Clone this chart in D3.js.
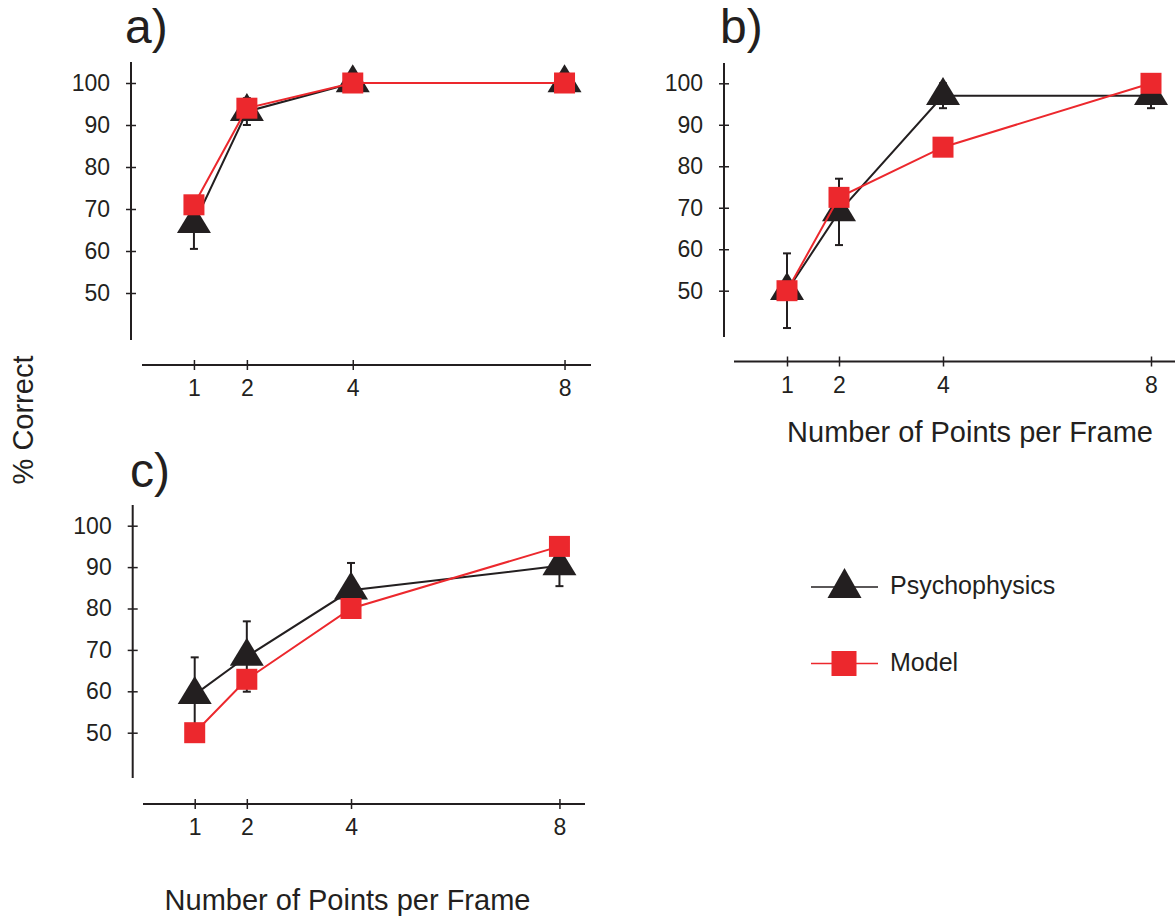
<!DOCTYPE html>
<html>
<head>
<meta charset="utf-8">
<script src="https://cdn.jsdelivr.net/npm/d3@7"></script>
<style>
  body { margin: 0; background: #fff; }
  svg { display: block; font-family: "Liberation Sans", Arial, sans-serif; }
  .tick text { font-size: 23px; fill: #231f20; }
  .tick line { stroke: #231f20; stroke-width: 1.5; }
</style>
</head>
<body>
<svg id="chart" width="1175" height="924"></svg>
<script>
const points = [1, 2, 4, 8];
const yTicks = [50, 60, 70, 80, 90, 100];

// panel a
const psychA = [66.5, 93.2, 100, 100];
const psychErrA = [6, 3.2, 0, 0];
const modelA = [71, 94, 100, 100];

// panel b
const psychB = [50, 69, 97, 97];
const psychErrB = [9, 8, 3, 3];
const modelB = [50, 72.5, 84.6, 100];

// panel c
const psychC = [59.2, 68.4, 84.4, 90.3];
const psychErrC = [9, 8.5, 6.6, 4.9];
const modelC = [50, 62.9, 80, 95];

const seriesNames = ['Psychophysics', 'Model'];
const xTitle = 'Number of Points per Frame';
const yTitle = '% Correct';

const black = '#231f20';
const red = '#ec282d';

const svg = d3.select('#chart');

const triPath = (w, h) =>
  `M0,${-2 * h / 3}L${w / 2},${h / 3}L${-w / 2},${h / 3}Z`;

const panels = [
  { label: 'a)', labelX: 125, labelY: 43, psych: psychA, err: psychErrA, model: modelA,
    axisX: 131, x0: 141, x1: 591, xAxisY: 365, xLine: [142, 591],
    y100: 83, y50: 293, yLine: [62, 340] },
  { label: 'b)', labelX: 720, labelY: 43, psych: psychB, err: psychErrB, model: modelB,
    axisX: 724, x0: 735, x1: 1177, xAxisY: 361.5, xLine: [734, 1175],
    y100: 83.3, y50: 290.7, yLine: [63, 337] },
  { label: 'c)', labelX: 130, labelY: 487, psych: psychC, err: psychErrC, model: modelC,
    axisX: 132.7, x0: 142.6, x1: 585.5, xAxisY: 804, xLine: [143, 585],
    y100: 525.7, y50: 732.7, yLine: [505, 778] }
];

panels.forEach(p => {
  const x = d3.scaleLinear().domain([0, 8.5]).range([p.x0, p.x1]);
  const y = d3.scaleLinear().domain([50, 100]).range([p.y50, p.y100]);
  const g = svg.append('g');

  // y axis
  const yAxisG = g.append('g')
    .attr('transform', `translate(${p.axisX},0)`)
    .call(d3.axisLeft(y).tickValues(yTicks).tickSize(5).tickPadding(16));
  yAxisG.select('.domain').remove();
  yAxisG.selectAll('.tick line').attr('x1', 5);
  yAxisG.selectAll('.tick text').attr('fill', black);
  g.append('line')
    .attr('x1', p.axisX).attr('x2', p.axisX)
    .attr('y1', p.yLine[0]).attr('y2', p.yLine[1])
    .attr('stroke', black).attr('stroke-width', 2);

  // x axis
  const xAxisG = g.append('g')
    .attr('transform', `translate(0,${p.xAxisY})`)
    .call(d3.axisBottom(x).tickValues(points).tickSize(5).tickPadding(10));
  xAxisG.select('.domain').remove();
  xAxisG.selectAll('.tick line').attr('y1', -5);
  xAxisG.selectAll('.tick text').attr('fill', black);
  g.append('line')
    .attr('x1', p.xLine[0]).attr('x2', p.xLine[1])
    .attr('y1', p.xAxisY).attr('y2', p.xAxisY)
    .attr('stroke', black).attr('stroke-width', 2);

  // panel label
  g.append('text')
    .attr('x', p.labelX).attr('y', p.labelY)
    .attr('font-size', 48).attr('fill', black)
    .text(p.label);

  const line = d3.line()
    .x((d, i) => x(points[i]))
    .y(d => y(d));

  // error bars
  const eb = g.selectAll('.err').data(p.psych.map((v, i) => ({ v, e: p.err[i], px: points[i] })).filter(d => d.e > 0))
    .enter().append('g').attr('class', 'err');
  eb.append('line')
    .attr('x1', d => x(d.px)).attr('x2', d => x(d.px))
    .attr('y1', d => y(d.v - d.e)).attr('y2', d => y(d.v + d.e))
    .attr('stroke', black).attr('stroke-width', 2);
  [-1, 1].forEach(s => {
    eb.append('line')
      .attr('x1', d => x(d.px) - 4).attr('x2', d => x(d.px) + 4)
      .attr('y1', d => y(d.v + s * d.e)).attr('y2', d => y(d.v + s * d.e))
      .attr('stroke', black).attr('stroke-width', 2);
  });

  // psychophysics
  g.append('path').datum(p.psych)
    .attr('d', line).attr('fill', 'none')
    .attr('stroke', black).attr('stroke-width', 2);
  g.selectAll('.tri').data(p.psych).enter().append('path')
    .attr('class', 'tri')
    .attr('transform', (d, i) => `translate(${x(points[i])},${y(d)})`)
    .attr('d', triPath(34, 28))
    .attr('fill', black);

  // model
  g.append('path').datum(p.model)
    .attr('d', line).attr('fill', 'none')
    .attr('stroke', red).attr('stroke-width', 2);
  g.selectAll('.sq').data(p.model).enter().append('rect')
    .attr('class', 'sq')
    .attr('x', (d, i) => x(points[i]) - 10.5)
    .attr('y', d => y(d) - 10.5)
    .attr('width', 21).attr('height', 21)
    .attr('fill', red);
});

// axis titles
svg.append('text')
  .attr('transform', 'translate(33,420) rotate(-90)')
  .attr('text-anchor', 'middle')
  .attr('font-size', 29).attr('fill', black)
  .text(yTitle);
svg.append('text')
  .attr('x', 970).attr('y', 442)
  .attr('text-anchor', 'middle')
  .attr('font-size', 29).attr('fill', black)
  .text(xTitle);
svg.append('text')
  .attr('x', 347.5).attr('y', 910)
  .attr('text-anchor', 'middle')
  .attr('font-size', 29).attr('fill', black)
  .text(xTitle);

// legend
const legend = svg.append('g');
const legendY = [587, 663.5];
const legendColors = [black, red];
seriesNames.forEach((name, i) => {
  const ly = legendY[i];
  legend.append('line')
    .attr('x1', 811).attr('x2', 878)
    .attr('y1', ly).attr('y2', ly)
    .attr('stroke', legendColors[i]).attr('stroke-width', 1.5);
  if (i === 0) {
    legend.append('path')
      .attr('transform', `translate(844.5,${ly + 1})`)
      .attr('d', triPath(34, 30))
      .attr('fill', black);
  } else {
    legend.append('rect')
      .attr('x', 844 - 12.5).attr('y', ly - 12.5)
      .attr('width', 25).attr('height', 25)
      .attr('fill', red);
  }
  legend.append('text')
    .attr('x', 890).attr('y', ly + 7)
    .attr('font-size', 25).attr('fill', black)
    .text(name);
});
</script>
</body>
</html>
